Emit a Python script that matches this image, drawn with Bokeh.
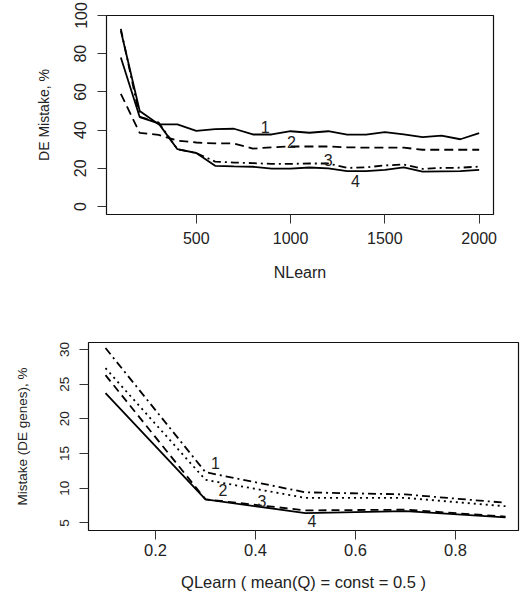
from bokeh.plotting import figure
from bokeh.models import Range1d, FixedTicker, ColumnDataSource
from bokeh.embed import file_html
from bokeh.resources import INLINE
from bokeh.core.properties import value

# ---------------- data: top panel ----------------
nlearn = [100, 200, 300, 400, 500, 600, 700, 800, 900, 1000,
          1100, 1200, 1300, 1400, 1500, 1600, 1700, 1800, 1900, 2000]
de_mistake_1 = [92, 50, 43, 43, 39.6, 40.5, 40.7, 37.7, 37.7, 39.4,
                38.6, 39.4, 37.6, 37.6, 38.9, 37.8, 36.3, 37.1, 35.2, 38.4]
de_mistake_2 = [59, 38.5, 37.5, 34.5, 33.5, 33, 33, 30.3, 31, 31.4,
                31.4, 31.4, 31, 30.8, 30.8, 30.8, 29.7, 29.7, 29.7, 29.7]
de_mistake_3 = [93, 47, 44, 30, 28, 23.5, 23, 22.7, 22.3, 22.3,
                22.5, 22.5, 20.2, 20.5, 21.5, 22, 19.7, 20.2, 20.3, 20.9]
de_mistake_4 = [78, 46.8, 43.5, 30, 28, 21.3, 21, 20.8, 19.8, 19.8,
                20.4, 20, 18.5, 18.5, 19.2, 20.5, 18.3, 18.4, 18.5, 19.2]
top_xticks = [500, 1000, 1500, 2000]
top_yticks = [0, 20, 40, 60, 80, 100]
top_label_x = [865, 1004, 1199, 1344]
top_label_y = [41.5, 33.7, 24.1, 13.1]
curve_names = ["1", "2", "3", "4"]

# ---------------- data: bottom panel ----------------
qlearn = [0.1, 0.3, 0.5, 0.7, 0.9]
mistake_1 = [30.2, 12.3, 9.4, 9.1, 7.9]
mistake_2 = [27.3, 11.2, 8.6, 8.6, 7.4]
mistake_3 = [26.3, 8.4, 6.8, 6.9, 5.9]
mistake_4 = [23.7, 8.4, 6.4, 6.7, 5.8]
bot_xticks = [0.2, 0.4, 0.6, 0.8]
bot_yticks = [5, 10, 15, 20, 25, 30]
bot_label_x = [0.32, 0.335, 0.413, 0.513]
bot_label_y = [13.7, 9.8, 8.1, 5.2]

FONT = "Liberation Sans"
TXT = "#222222"


def style(p, xticks, yticks, tick_size, ylab_size, ytick_size, xlab_size):
    p.grid.visible = False
    p.outline_line_color = "#111111"
    p.outline_line_width = 1.2
    p.outline_line_alpha = 1.0
    p.background_fill_color = "white"
    p.border_fill_color = "white"
    p.xaxis.ticker = FixedTicker(ticks=xticks)
    p.yaxis.ticker = FixedTicker(ticks=yticks)
    for ax in (p.xaxis[0], p.yaxis[0]):
        ax.axis_line_color = None
        ax.major_tick_in = 0
        ax.major_tick_out = 9
        ax.major_tick_line_color = "#333333"
        ax.major_tick_line_width = 1
        ax.minor_tick_line_color = None
        ax.major_label_text_font = FONT
        ax.major_label_text_color = TXT
        ax.axis_label_text_font = FONT
        ax.axis_label_text_color = TXT
        ax.axis_label_text_font_style = "normal"
    p.xaxis.major_label_text_font_size = tick_size
    p.xaxis.axis_label_text_font_size = xlab_size
    p.yaxis.major_label_text_font_size = ytick_size
    p.yaxis.axis_label_text_font_size = ylab_size
    p.yaxis.major_label_orientation = "vertical"


# ---------------- top figure ----------------
p1 = figure(output_backend="svg", toolbar_location=None,
            frame_width=387, frame_height=199,
            min_border_left=106, min_border_top=15, min_border_right=29,
            min_border_bottom=86,
            x_range=Range1d(24, 2076), y_range=Range1d(-4.2, 100))
style(p1, top_xticks, top_yticks, "16px", "14px", "16px", "16px")
p1.xaxis.axis_label = "NLearn"
p1.yaxis.axis_label = "DE Mistake, %"
p1.xaxis.major_label_standoff = 8
p1.xaxis.axis_label_standoff = 17
p1.yaxis.major_label_standoff = 11
p1.yaxis.axis_label_standoff = 20

p1.line(nlearn, de_mistake_1, line_color="black", line_width=1.8)
p1.line(nlearn, de_mistake_2, line_color="black", line_width=1.8, line_dash="9 5")
p1.line(nlearn, de_mistake_3, line_color="black", line_width=1.8, line_dash="8 4 2 4")
p1.line(nlearn, de_mistake_4, line_color="black", line_width=1.8)
src1 = ColumnDataSource(dict(x=top_label_x, y=top_label_y, t=curve_names))
p1.text("x", "y", text="t", source=src1, text_font=value(FONT),
        text_font_size="16px", text_color=TXT,
        text_align="center", text_baseline="middle")

# ---------------- bottom figure ----------------
p2 = figure(output_backend="svg", toolbar_location=None,
            frame_width=430, frame_height=188,
            min_border_left=88, min_border_top=42, min_border_right=4,
            min_border_bottom=65,
            x_range=Range1d(0.066, 0.926), y_range=Range1d(3.9, 31.0))
style(p2, bot_xticks, bot_yticks, "16.5px", "13.5px", "13.5px", "16.5px")
p2.xaxis.axis_label = "QLearn ( mean(Q) = const = 0.5 )"
p2.yaxis.axis_label = "Mistake (DE genes), %"
p2.xaxis.major_label_standoff = 4
p2.xaxis.axis_label_standoff = 14
p2.yaxis.major_label_standoff = 10
p2.yaxis.axis_label_standoff = 28

p2.line(qlearn, mistake_1, line_color="black", line_width=1.8, line_dash="8 4 2 4")
p2.line(qlearn, mistake_2, line_color="black", line_width=1.8, line_dash="2 4")
p2.line(qlearn, mistake_3, line_color="black", line_width=1.8, line_dash="8 5")
p2.line(qlearn, mistake_4, line_color="black", line_width=1.8)
src2 = ColumnDataSource(dict(x=bot_label_x, y=bot_label_y, t=curve_names))
p2.text("x", "y", text="t", source=src2, text_font=value(FONT),
        text_font_size="16px", text_color=TXT,
        text_align="center", text_baseline="middle")

open("out.html", "w").write(file_html([p1, p2], INLINE))
